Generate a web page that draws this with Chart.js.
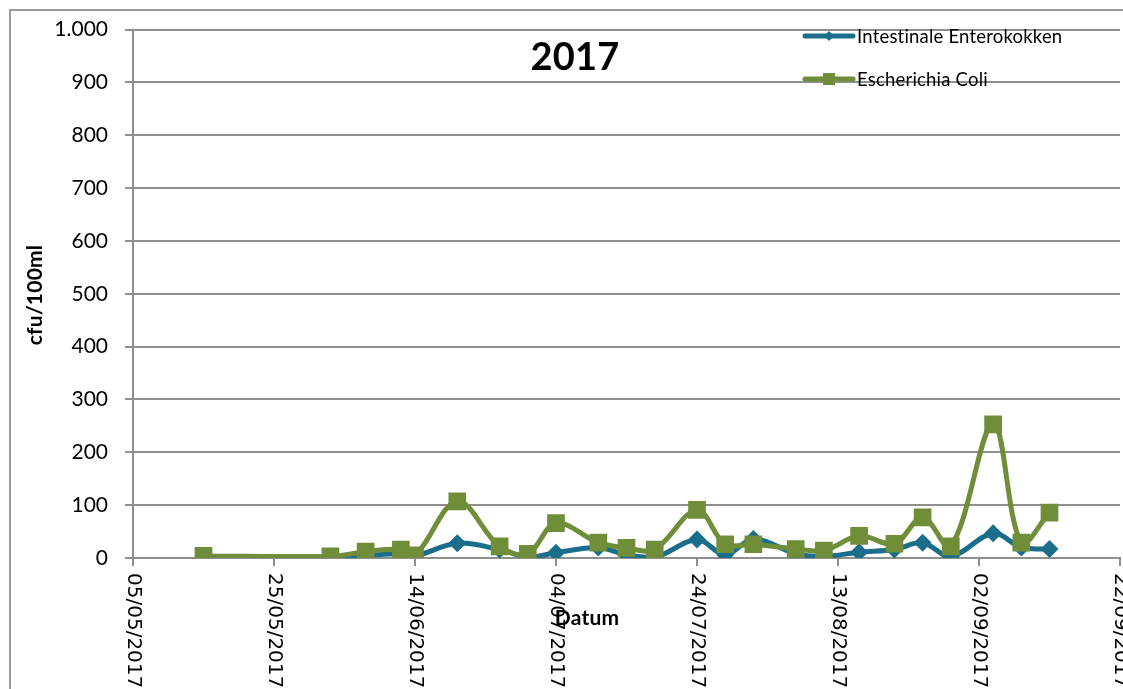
<!DOCTYPE html>
<html>
<head>
<meta charset="utf-8">
<script src="https://cdn.jsdelivr.net/npm/chart.js@4"></script>
<style>
  body { margin: 0; background: #fff; }
  canvas { display: block; }
</style>
</head>
<body>
<canvas id="chart1" width="1123" height="689"></canvas>
<script>
const dates = ['15/05/2017', '02/06/2017', '07/06/2017', '12/06/2017', '14/06/2017', '20/06/2017',
               '26/06/2017', '30/06/2017', '04/07/2017', '10/07/2017', '14/07/2017', '18/07/2017',
               '24/07/2017', '28/07/2017', '01/08/2017', '07/08/2017', '11/08/2017', '16/08/2017',
               '21/08/2017', '25/08/2017', '29/08/2017', '04/09/2017', '08/09/2017', '12/09/2017'];
const enterokokken = [2, 2, 5, 8, 4, 28, 16, 2, 10, 20, 6, 1, 35, 6, 36, 8, 3, 11, 16, 29, 3, 47, 20, 17];
const coli = [4, 3, 12, 16, 5, 107, 22, 8, 66, 29, 19, 16, 91, 26, 26, 17, 14, 42, 27, 77, 22, 253, 29, 86];
const xTickLabels = ['05/05/2017', '25/05/2017', '14/06/2017', '04/07/2017', '24/07/2017',
                     '13/08/2017', '02/09/2017', '22/09/2017'];

const start = Date.UTC(2017, 4, 5);
function dayOf(s) {
    const [d, m, y] = s.split('/').map(Number);
    return (Date.UTC(y, m - 1, d) - start) / 86400000;
}
const pts = (vals) => dates.map((d, i) => ({ x: dayOf(d), y: vals[i] }));

const blue = '#1B6E8B';
const green = '#708D39';
const gridCol = '#8f8f8f';

const extras = {
    id: 'extras',
    afterDraw(chart) {
        const ctx = chart.ctx;
        const xs = chart.scales.x;
        ctx.save();
        // outer frame
        ctx.strokeStyle = '#9a9a9a';
        ctx.lineWidth = 2;
        ctx.strokeRect(10, 10, 1130, 700);

        // rotated x tick labels
        ctx.fillStyle = '#000';
        ctx.font = '20px "DejaVu Sans"';
        ctx.textAlign = 'left';
        ctx.textBaseline = 'middle';
        xs.ticks.forEach((t, i) => {
            const x = xs.getPixelForValue(t.value);
            ctx.save();
            ctx.translate(x, 573);
            ctx.rotate(Math.PI / 2);
            ctx.fillText(xTickLabels[i], 0, 0);
            ctx.restore();
        });

        ctx.letterSpacing = '0.2px';
        // title
        ctx.font = 'bold 38px Lato';
        ctx.textAlign = 'center';
        ctx.fillText('2017', 575, 58);

        // axis titles
        ctx.font = 'bold 21px Lato';
        ctx.fillText('Datum', 587, 618);
        ctx.save();
        ctx.translate(35, 295);
        ctx.rotate(-Math.PI / 2);
        ctx.fillText('cfu/100ml', 0, 0);
        ctx.restore();

        // legend
        const items = [
            { label: 'Intestinale Enterokokken', color: blue, style: 'diamond', y: 36 },
            { label: 'Escherichia Coli', color: green, style: 'square', y: 79 }
        ];
        items.forEach(it => {
            ctx.strokeStyle = it.color;
            ctx.fillStyle = it.color;
            ctx.lineWidth = 5;
            ctx.lineCap = 'round';
            ctx.beginPath();
            ctx.moveTo(805, it.y);
            ctx.lineTo(853, it.y);
            ctx.stroke();
            if (it.style === 'diamond') {
                ctx.beginPath();
                ctx.moveTo(829, it.y - 5);
                ctx.lineTo(834, it.y);
                ctx.lineTo(829, it.y + 5);
                ctx.lineTo(824, it.y);
                ctx.closePath();
                ctx.fill();
            } else {
                ctx.fillRect(823, it.y - 6, 12, 12);
            }
            ctx.fillStyle = '#000';
            ctx.font = '18.5px Lato';
            ctx.textAlign = 'left';
            ctx.fillText(it.label, 857, it.y + 1);
        });
        ctx.restore();
    }
};

const chart1 = new Chart(document.getElementById('chart1').getContext('2d'), {
    type: 'line',
    data: {
        datasets: [
            {
                label: 'Intestinale Enterokokken',
                data: pts(enterokokken),
                borderColor: blue,
                backgroundColor: blue,
                borderWidth: 5,
                pointStyle: 'rectRot',
                pointRadius: 9,
                pointBorderWidth: 0,
                tension: 0.35,
                order: 1
            },
            {
                label: 'Escherichia Coli',
                data: pts(coli),
                borderColor: green,
                backgroundColor: green,
                borderWidth: 5,
                pointStyle: 'rect',
                pointRadius: 12.5,
                pointBorderWidth: 0,
                tension: 0.35,
                order: 0
            }
        ]
    },
    options: {
        responsive: false,
        animation: false,
        layout: { autoPadding: false, padding: { top: 28, right: 3, left: 0, bottom: 0 } },
        scales: {
            x: {
                type: 'linear',
                min: 0,
                max: 140,
                ticks: { display: false, stepSize: 20 },
                grid: { drawOnChartArea: false, color: gridCol, lineWidth: 2, tickLength: 8 },
                border: { color: gridCol, width: 2 },
                afterFit(scale) { scale.height = 131; }
            },
            y: {
                min: 0,
                max: 1000,
                ticks: {
                    stepSize: 100,
                    padding: 17,
                    color: '#000',
                    font: { family: 'Lato', size: 21 },
                    callback: (v) => v >= 1000 ? Math.floor(v / 1000) + '.' + String(v % 1000).padStart(3, '0') : String(v)
                },
                grid: { color: gridCol, lineWidth: 2, tickLength: 8 },
                border: { color: gridCol, width: 2 },
                afterFit(scale) { scale.width = 133; }
            }
        },
        plugins: {
            legend: { display: false },
            tooltip: { enabled: false }
        }
    },
    plugins: [extras]
});
</script>
</body>
</html>
